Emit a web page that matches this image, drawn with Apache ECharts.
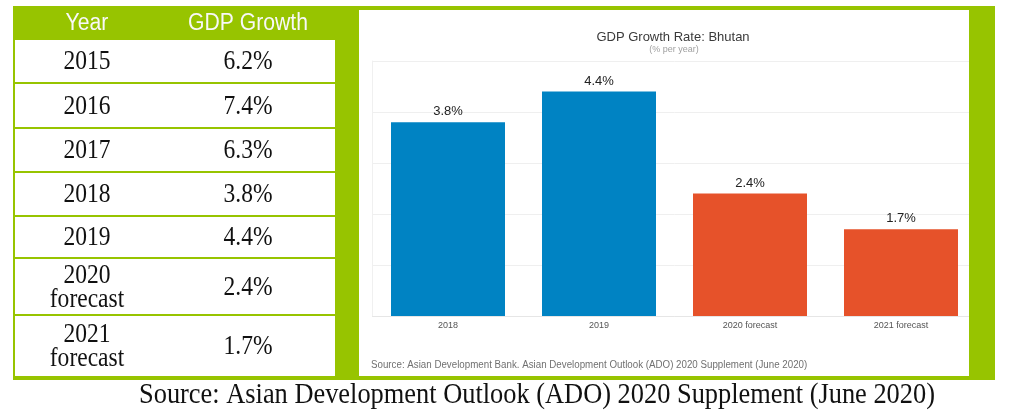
<!DOCTYPE html>
<html>
<head>
<meta charset="utf-8">
<script src="https://cdn.jsdelivr.net/npm/echarts@6/dist/echarts.min.js"></script>
<style>
  html, body { margin: 0; padding: 0; background: #ffffff; }
  #chart { width: 1009px; height: 420px; }
</style>
</head>
<body>
<div id="chart"></div>
<script>
// ---- data ----
const tableHeaders = ['Year', 'GDP Growth'];
const tableYears = ['2015', '2016', '2017', '2018', '2019', '2020\nforecast', '2021\nforecast'];
const tableGrowth = [6.2, 7.4, 6.3, 3.8, 4.4, 2.4, 1.7];

const chartTitle = 'GDP Growth Rate: Bhutan';
const chartSubtitle = '(% per year)';
const chartCategories = ['2018', '2019', '2020 forecast', '2021 forecast'];
const chartValues = [3.8, 4.4, 2.4, 1.7];
const chartIsForecast = [false, false, true, true];
const chartSource = 'Source: Asian Development Bank. Asian Development Outlook (ADO) 2020 Supplement (June 2020)';
const pageSource = 'Source: Asian Development Outlook (ADO) 2020 Supplement (June 2020)';

// ---- layout / style ----
const GREEN = '#97c400';
const BLUE = '#0083c3';
const ORANGE = '#e6522a';
const rowTops = [40, 84, 129, 173, 217, 259, 316];
const rowHeights = [42, 43, 42, 42, 40, 55, 60];
const colCenters = [87, 248];

const graphics = [];
// outer green frame
graphics.push({ type: 'rect', z: -10, shape: { x: 13, y: 6, width: 982, height: 374 }, style: { fill: GREEN } });
// chart white panel
graphics.push({ type: 'rect', z: -9, shape: { x: 359, y: 10, width: 610, height: 366 }, style: { fill: '#ffffff' } });
// table header texts
tableHeaders.forEach((h, i) => {
  graphics.push({
    type: 'text', z: 5, x: colCenters[i], y: 23.5, scaleX: 0.92,
    style: { x: 0, y: 0, text: h, fill: '#f8f8f8', font: '23px "Liberation Sans", Arial, sans-serif', textAlign: 'center', textVerticalAlign: 'middle' }
  });
});
// table rows
tableYears.forEach((yr, i) => {
  const top = rowTops[i], h = rowHeights[i];
  graphics.push({ type: 'rect', z: -8, shape: { x: 15, y: top, width: 320, height: h }, style: { fill: '#ffffff' } });
  const cy = top + h / 2 + 1;
  graphics.push({
    type: 'text', z: 5, x: colCenters[0], y: cy, scaleX: 0.84,
    style: { x: 0, y: 0, text: yr, fill: '#111', font: '28px "Liberation Serif", "Times New Roman", serif', lineHeight: 24, textAlign: 'center', textVerticalAlign: 'middle' }
  });
  graphics.push({
    type: 'text', z: 5, x: colCenters[1], y: cy, scaleX: 0.84,
    style: { x: 0, y: 0, text: tableGrowth[i].toFixed(1) + '%', fill: '#111', font: '28px "Liberation Serif", "Times New Roman", serif', textAlign: 'center', textVerticalAlign: 'middle' }
  });
});
// right green strip covering gridline overflow
graphics.push({ type: 'rect', z: 100, shape: { x: 969, y: 6, width: 26, height: 374 }, style: { fill: GREEN } });
graphics.push({ type: 'rect', z: 100, shape: { x: 995, y: 0, width: 14, height: 420 }, style: { fill: '#ffffff' } });
// chart source line
graphics.push({
  type: 'text', z: 5, x: 371, y: 365, scaleX: 0.975,
  style: { x: 0, y: 0, text: chartSource, fill: '#707070', font: '10px "Liberation Sans", Arial, sans-serif', textAlign: 'left', textVerticalAlign: 'middle' }
});
// page source line
graphics.push({
  type: 'text', z: 5, x: 537, y: 395, scaleX: 0.91,
  style: { x: 0, y: 0, text: pageSource, fill: '#111', font: '29px "Liberation Serif", "Times New Roman", serif', textAlign: 'center', textVerticalAlign: 'middle' }
});
// chart title & subtitle
graphics.push({
  type: 'text', z: 5, x: 673, y: 37,
  style: { text: chartTitle, fill: '#3a3a3a', font: '13px "Liberation Sans", Arial, sans-serif', textAlign: 'center', textVerticalAlign: 'middle' }
});
graphics.push({
  type: 'text', z: 5, x: 674, y: 50,
  style: { text: chartSubtitle, fill: '#a0a0a0', font: '9px "Liberation Sans", Arial, sans-serif', textAlign: 'center', textVerticalAlign: 'middle' }
});

const chart = echarts.init(document.getElementById('chart'), null, { renderer: 'canvas' });
chart.setOption({
  animation: false,
  backgroundColor: '#ffffff',
  graphic: { elements: graphics },
  grid: { left: 372.5, top: 61, width: 604, height: 255, containLabel: false },
  xAxis: {
    type: 'category',
    data: chartCategories,
    axisLine: { show: true, lineStyle: { color: '#e6e6e6', width: 1 } },
    axisTick: { show: false },
    axisLabel: { color: '#555', fontSize: 9, fontFamily: '"Liberation Sans", Arial, sans-serif', margin: 5 }
  },
  yAxis: {
    type: 'value',
    min: 0, max: 5, interval: 1,
    axisLine: { show: true, lineStyle: { color: '#f0f0f0', width: 1 } },
    axisTick: { show: false },
    axisLabel: { show: false },
    splitLine: { show: true, lineStyle: { color: '#efefef', width: 1 } }
  },
  series: [{
    type: 'bar',
    barWidth: 114,
    data: chartValues.map((v, i) => ({ value: v, itemStyle: { color: chartIsForecast[i] ? ORANGE : BLUE } })),
    label: {
      show: true, position: 'top', distance: 4,
      formatter: p => p.value.toFixed(1) + '%',
      color: '#222', fontSize: 13, fontFamily: '"Liberation Sans", Arial, sans-serif'
    }
  }]
});
</script>
</body>
</html>
